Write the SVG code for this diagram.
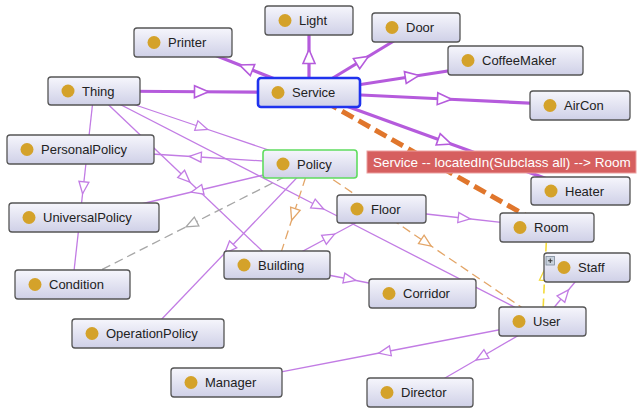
<svg xmlns="http://www.w3.org/2000/svg" width="638" height="411" viewBox="0 0 638 411">
<style>
text{font-family:"Liberation Sans",Arial,sans-serif;font-size:13px;fill:#222}
.box{fill:url(#g);stroke:#555;stroke-width:1.3}
.dot{fill:#d4a22a}
.e{fill:none}
.tp{stroke:#b55bdc;stroke-width:3.2;marker-mid:url(#mTP)}
.p{stroke:#c27ce4;stroke-width:1.3;marker-mid:url(#mP)}
.od{stroke:#e3a567;stroke-width:1.3;stroke-dasharray:9 5;marker-mid:url(#mO)}
.to{stroke:#e0762c;stroke-width:5;stroke-dasharray:13 6;marker-mid:url(#mTO)}
.gd{stroke:#a6a6a6;stroke-width:1.3;stroke-dasharray:9 5;marker-mid:url(#mG)}
.yd{stroke:#f3da3a;stroke-width:1.6;stroke-dasharray:9 5;marker-mid:url(#mY)}
</style>
<defs>
<linearGradient id="g" x1="0" y1="0" x2="0" y2="1">
<stop offset="0" stop-color="#f6f6fc"/>
<stop offset="1" stop-color="#cfd0e7"/>
</linearGradient>
<marker id="mTP" markerUnits="userSpaceOnUse" viewBox="-10 -10 20 20" markerWidth="20" markerHeight="20" refX="0" refY="0" orient="auto" overflow="visible"><path d="M7,0 L-7,-6 L-7,6 Z" fill="#fff" stroke="#b55bdc" stroke-width="1.6"/></marker>
<marker id="mP" markerUnits="userSpaceOnUse" viewBox="-10 -10 20 20" markerWidth="20" markerHeight="20" refX="0" refY="0" orient="auto" overflow="visible"><path d="M6,0 L-6,-5 L-6,5 Z" fill="#fff" stroke="#c27ce4" stroke-width="1.3"/></marker>
<marker id="mO" markerUnits="userSpaceOnUse" viewBox="-10 -10 20 20" markerWidth="20" markerHeight="20" refX="0" refY="0" orient="auto" overflow="visible"><path d="M6,0 L-6,-5 L-6,5 Z" fill="#fff" stroke="#e3a567" stroke-width="1.3"/></marker>
<marker id="mTO" markerUnits="userSpaceOnUse" viewBox="-10 -10 20 20" markerWidth="20" markerHeight="20" refX="0" refY="0" orient="auto" overflow="visible"><path d="M6,0 L-6,-5 L-6,5 Z" fill="#fff" stroke="#e0762c" stroke-width="1.3"/></marker>
<marker id="mG" markerUnits="userSpaceOnUse" viewBox="-10 -10 20 20" markerWidth="20" markerHeight="20" refX="0" refY="0" orient="auto" overflow="visible"><path d="M6,0 L-6,-5 L-6,5 Z" fill="#fff" stroke="#a6a6a6" stroke-width="1.3"/></marker>
<marker id="mY" markerUnits="userSpaceOnUse" viewBox="-10 -10 20 20" markerWidth="20" markerHeight="20" refX="0" refY="0" orient="auto" overflow="visible"><path d="M6,0 L-6,-5 L-6,5 Z" fill="#fff" stroke="#f3da3a" stroke-width="1.3"/></marker>
</defs>
<rect width="638" height="411" fill="#fff"/>
<g id="connectors" class="e">
<polyline class="e tp" points="94,91 201.5,91.75 309,92.5"/>
<polyline class="e tp" points="309,92.5 246,67.5 183,42.5"/>
<polyline class="e tp" points="309,92.5 309,56.5 309,20.5"/>
<polyline class="e tp" points="309,92.5 362.5,60 416,27.5"/>
<polyline class="e tp" points="309,92.5 412.25,76.5 515.5,60.5"/>
<polyline class="e tp" points="309,92.5 444.5,99 580,105.5"/>
<polyline class="e tp" points="309,92.5 444.75,141.75 580.5,191"/>
<polyline class="e to" points="309,92.5 428,160 547,227.5"/>
<polyline class="e p" points="94,91 83.25,187.75 72.5,284.5"/>
<polyline class="e p" points="94,91 202,127.5 310,164"/>
<polyline class="e p" points="94,91 185.5,178 277,265"/>
<polyline class="e p" points="94,91 318.25,206.25 542.5,321.5"/>
<polyline class="e p" points="310,164 195.25,156.75 80.5,149.5"/>
<polyline class="e p" points="310,164 197,190.75 84,217.5"/>
<polyline class="e p" points="310,164 229,248.75 148,333.5"/>
<polyline class="e p" points="277,265 329.25,237 381.5,209"/>
<polyline class="e p" points="381.5,209 464.25,218.25 547,227.5"/>
<polyline class="e p" points="277,265 349.75,279.25 422.5,293.5"/>
<polyline class="e p" points="542.5,321.5 564.75,294.5 587,267.5"/>
<polyline class="e p" points="542.5,321.5 384.5,352 226.5,382.5"/>
<polyline class="e p" points="542.5,321.5 481.25,357 420,392.5"/>
<polyline class="e od" points="310,164 293.5,214.5 277,265"/>
<polyline class="e od" points="310,164 426.25,242.75 542.5,321.5"/>
<polyline class="e gd" points="310,164 191.25,224.25 72.5,284.5"/>
<polyline class="e yd" points="542.5,321.5 544.75,274.5 547,227.5"/>
</g>
<g id="n-Light"><rect class="box" x="265" y="6" width="88" height="29" rx="3"/><circle class="dot" cx="285" cy="20.5" r="6.5"/><text x="299" y="25">Light</text></g>
<g id="n-Printer"><rect class="box" x="134" y="28" width="98" height="29" rx="3"/><circle class="dot" cx="154" cy="42.5" r="6.5"/><text x="168" y="47">Printer</text></g>
<g id="n-Door"><rect class="box" x="372" y="13" width="88" height="29" rx="3"/><circle class="dot" cx="392" cy="27.5" r="6.5"/><text x="406" y="32">Door</text></g>
<g id="n-CoffeeMaker"><rect class="box" x="448" y="46" width="135" height="29" rx="3"/><circle class="dot" cx="468" cy="60.5" r="6.5"/><text x="482" y="65">CoffeeMaker</text></g>
<g id="n-Thing"><rect class="box" x="48" y="77" width="92" height="28" rx="3"/><circle class="dot" cx="68" cy="91" r="6.5"/><text x="82" y="95.5">Thing</text></g>
<g id="n-Service"><rect x="258" y="78" width="102" height="29" rx="3" fill="url(#g)" stroke="#1f33ee" stroke-width="2.6"/><circle class="dot" cx="278" cy="92.5" r="6.5"/><text x="292" y="97">Service</text></g>
<g id="n-AirCon"><rect class="box" x="530" y="91" width="100" height="29" rx="3"/><circle class="dot" cx="550" cy="105.5" r="6.5"/><text x="564" y="110">AirCon</text></g>
<g id="n-PersonalPolicy"><rect class="box" x="7" y="135" width="147" height="29" rx="3"/><circle class="dot" cx="27" cy="149.5" r="6.5"/><text x="41" y="154">PersonalPolicy</text></g>
<g id="n-Policy"><rect x="263" y="150" width="94" height="28" rx="3" fill="url(#g)" stroke="#5fdc5f" stroke-width="1.6"/><circle class="dot" cx="283" cy="164" r="6.5"/><text x="297" y="168.5">Policy</text></g>
<g id="n-Heater"><rect class="box" x="531" y="177" width="99" height="28" rx="3"/><circle class="dot" cx="551" cy="191" r="6.5"/><text x="565" y="195.5">Heater</text></g>
<g id="n-Floor"><rect class="box" x="337" y="195" width="89" height="28" rx="3"/><circle class="dot" cx="357" cy="209" r="6.5"/><text x="371" y="213.5">Floor</text></g>
<g id="n-UniversalPolicy"><rect class="box" x="9" y="203" width="150" height="29" rx="3"/><circle class="dot" cx="29" cy="217.5" r="6.5"/><text x="43" y="222">UniversalPolicy</text></g>
<g id="n-Room"><rect class="box" x="500" y="213" width="94" height="29" rx="3"/><circle class="dot" cx="520" cy="227.5" r="6.5"/><text x="534" y="232">Room</text></g>
<g id="n-Building"><rect class="box" x="224" y="251" width="106" height="28" rx="3"/><circle class="dot" cx="244" cy="265" r="6.5"/><text x="258" y="269.5">Building</text></g>
<g id="n-Staff"><rect class="box" x="544" y="253" width="86" height="29" rx="3"/><rect x="546" y="256.5" width="8.5" height="8.5" fill="#c9d2de" stroke="#7d8a9a" stroke-width="0.8"/><path d="M548,260.75 h4.5 M550.25,258.5 v4.5" stroke="#333" stroke-width="1"/><circle class="dot" cx="564" cy="267.5" r="6.5"/><text x="578" y="272">Staff</text></g>
<g id="n-Condition"><rect class="box" x="15" y="270" width="115" height="29" rx="3"/><circle class="dot" cx="35" cy="284.5" r="6.5"/><text x="49" y="289">Condition</text></g>
<g id="n-Corridor"><rect class="box" x="369" y="279" width="107" height="29" rx="3"/><circle class="dot" cx="389" cy="293.5" r="6.5"/><text x="403" y="298">Corridor</text></g>
<g id="n-User"><rect class="box" x="499" y="307" width="87" height="29" rx="3"/><circle class="dot" cx="519" cy="321.5" r="6.5"/><text x="533" y="326">User</text></g>
<g id="n-OperationPolicy"><rect class="box" x="72" y="319" width="152" height="29" rx="3"/><circle class="dot" cx="92" cy="333.5" r="6.5"/><text x="106" y="338">OperationPolicy</text></g>
<g id="n-Manager"><rect class="box" x="171" y="368" width="111" height="29" rx="3"/><circle class="dot" cx="191" cy="382.5" r="6.5"/><text x="205" y="387">Manager</text></g>
<g id="n-Director"><rect class="box" x="367" y="378" width="106" height="29" rx="3"/><circle class="dot" cx="387" cy="392.5" r="6.5"/><text x="401" y="397">Director</text></g>
<g id="label"><rect x="367" y="151" width="269" height="22" fill="#d65f5f" stroke="#eba0a0" stroke-width="1"/><text x="373" y="167" style="fill:#fff;font-size:13.5px">Service -- locatedIn(Subclass all) --&gt; Room</text></g>
</svg>
